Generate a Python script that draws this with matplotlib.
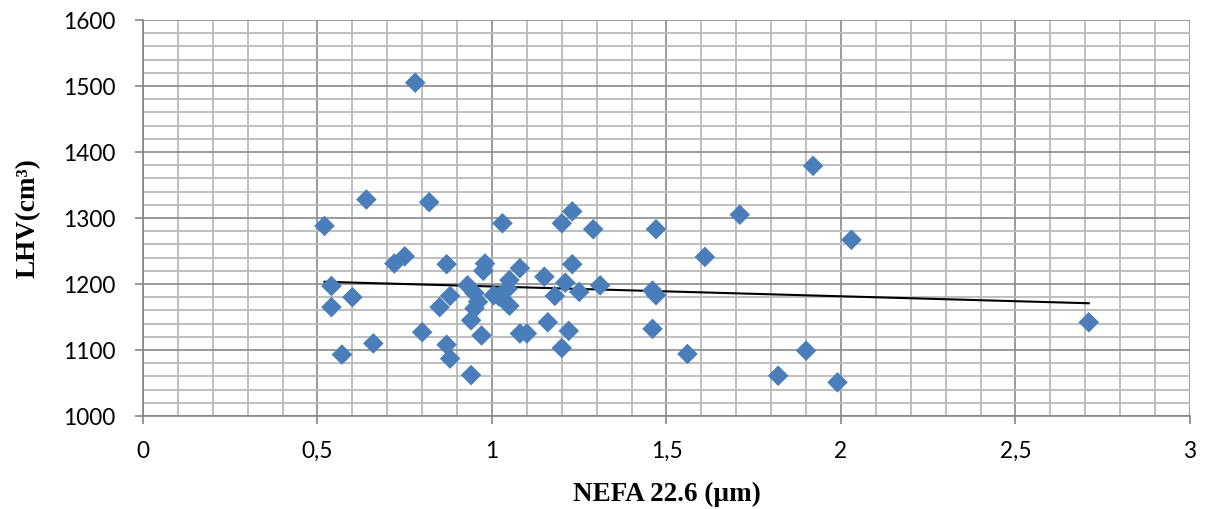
"""
Scatter of LHV against NEFA 22.6 with a linear trend line, Excel-like grid.
"""
import numpy as np
import matplotlib
matplotlib.use('Agg')
import matplotlib.pyplot as plt
from matplotlib.ticker import MultipleLocator, FuncFormatter

# data
nefa = [0.52, 0.78, 0.64, 0.82, 0.54, 0.54, 0.60, 0.57, 0.66, 0.72,
        0.75, 0.80, 0.87, 0.85, 0.88, 0.87, 0.88, 0.94, 0.93, 0.95,
        0.96, 0.95, 0.94, 0.97, 0.98, 0.975, 1.03, 1.02, 1.005, 1.05,
        1.05, 1.045, 1.08, 1.08, 1.10, 1.15, 1.16, 1.18, 1.20, 1.23,
        1.23, 1.21, 1.25, 1.22, 1.20, 1.29, 1.31, 1.47, 1.46, 1.47,
        1.46, 1.61, 1.71, 1.92, 2.03, 1.56, 1.82, 1.90, 1.99, 2.71]
lhv = [1288, 1505, 1328, 1324, 1197, 1165, 1180, 1093, 1110, 1231,
       1242, 1127, 1230, 1165, 1182, 1108, 1087, 1062, 1198, 1186,
       1173, 1163, 1145, 1122, 1231, 1220, 1292, 1181, 1183, 1167,
       1206, 1193, 1224, 1125, 1125, 1211, 1142, 1182, 1292, 1310,
       1230, 1202, 1188, 1129, 1103, 1283, 1198, 1283, 1190, 1183,
       1132, 1241, 1305, 1379, 1267, 1094, 1061, 1099, 1051, 1142]

x_label = 'NEFA 22.6 (µm)'
y_label = 'LHV(cm³)'


def comma_fmt(v, pos):
    s = ('%g' % v)
    return s.replace('.', ',')


fig = plt.figure(figsize=(12.16, 5.09), dpi=100)
ax = fig.add_axes([0.1176, 0.1827, 0.861, 0.778])

x = np.array(nefa)
y = np.array(lhv)

# linear trend line over the data range
k, b = np.polyfit(x, y, 1)
xt = np.array([x.min(), x.max()])
ax.plot(xt, k * xt + b, color='black', lw=1.5, zorder=3)

ax.scatter(x, y, marker='D', s=110, color='#4a7ebb', edgecolors='none', zorder=4)

ax.set_xlim(0, 3)
ax.set_ylim(1000, 1600)
ax.xaxis.set_major_locator(MultipleLocator(0.5))
ax.xaxis.set_minor_locator(MultipleLocator(0.1))
ax.yaxis.set_major_locator(MultipleLocator(100))
ax.yaxis.set_minor_locator(MultipleLocator(20))
ax.xaxis.set_major_formatter(FuncFormatter(comma_fmt))

ax.grid(which='major', color='#8a8a8a', lw=1.2, zorder=1)
ax.grid(which='minor', color='#bababa', lw=1.3, zorder=0)
ax.set_axisbelow(True)

for side in ['top', 'right']:
    ax.spines[side].set_visible(False)
for side in ['left', 'bottom']:
    ax.spines[side].set_color('#868686')
    ax.spines[side].set_linewidth(1.2)

ax.tick_params(which='major', direction='out', length=6, width=1.2,
               color='#868686', labelsize=16.3)
ax.tick_params(which='minor', length=0)
ax.tick_params(axis='y', pad=14)
ax.tick_params(axis='x', pad=12)
for lab in ax.get_xticklabels() + ax.get_yticklabels():
    lab.set_family('Lato')

ax.set_xlabel(x_label, family='Liberation Serif', fontweight='bold',
              fontsize=19.5, labelpad=14)
ax.set_ylabel(y_label, family='Liberation Serif', fontweight='bold',
              fontsize=19.5, labelpad=16)

fig.savefig('out.png', dpi=100)
